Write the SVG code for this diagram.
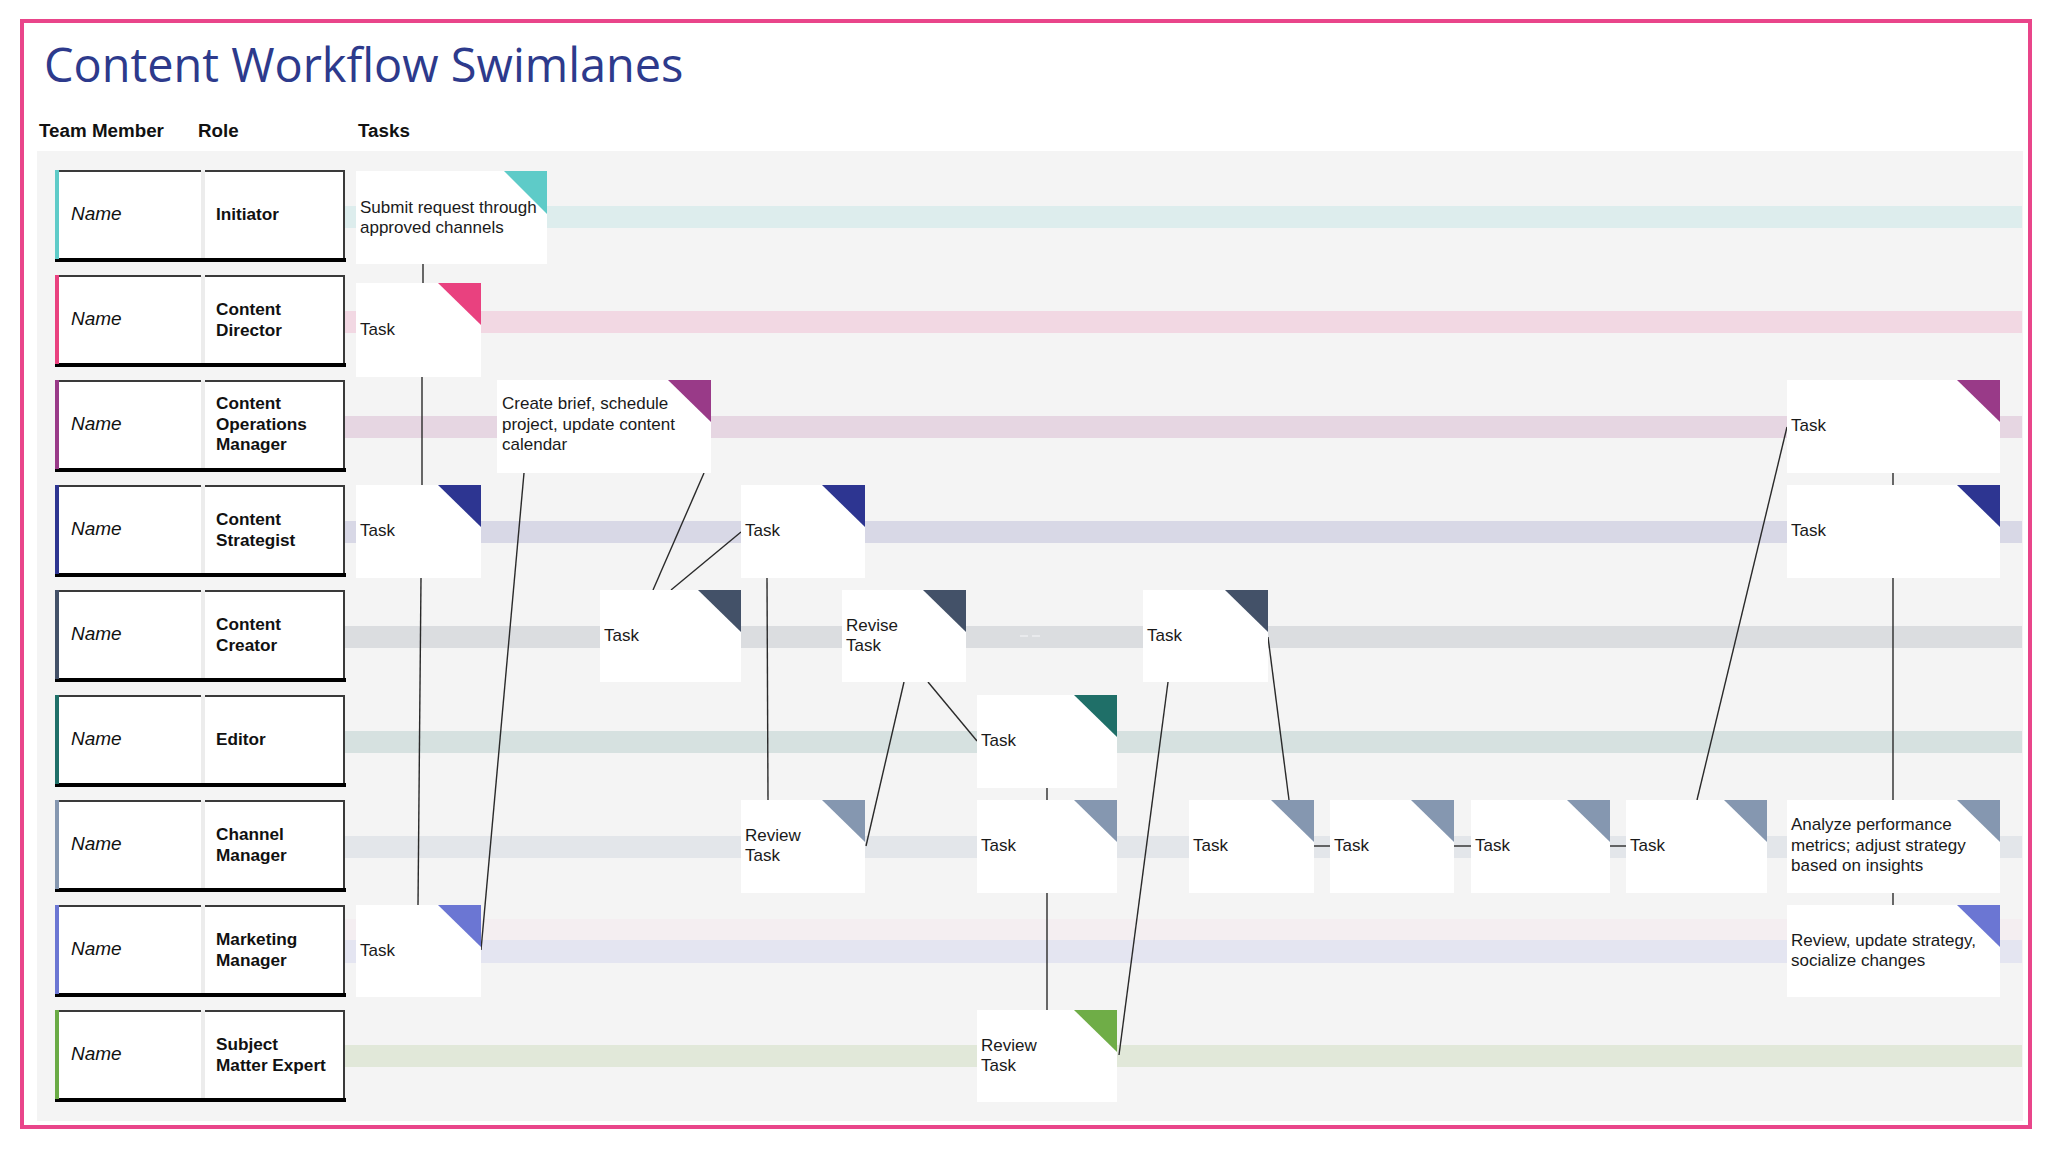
<svg xmlns="http://www.w3.org/2000/svg" width="2048" height="1152" viewBox="0 0 2048 1152">
<style>
.title{font-family:"Open Sans","Noto Sans",sans-serif;font-size:46.9px;fill:#2d3a8c}
.hdr{font-family:"Liberation Sans",Arial,sans-serif;font-size:18.8px;font-weight:bold;fill:#111}
.name{font-family:"Liberation Sans",Arial,sans-serif;font-size:19px;font-style:italic;fill:#111}
.role{font-family:"Liberation Sans",Arial,sans-serif;font-size:17.2px;font-weight:bold;fill:#111}
.tt{font-family:"Liberation Sans",Arial,sans-serif;font-size:17px;fill:#1a1a1a}
.cell{fill:#fff}
.tb{stroke:#3a3a3a;stroke-width:2;fill:none}
.bot{fill:#000}
.gap{fill:#ececec}
.box{fill:#fff}
.conn{stroke:#2a2a2a;stroke-width:1.4;fill:none}
</style>
<rect x="0" y="0" width="2048" height="1152" fill="#fff"/>
<g id="frame">
<rect x="37" y="151" width="1986" height="970" fill="#f4f4f4"/>
<rect x="22" y="21" width="2008" height="1106" fill="none" stroke="#e9458a" stroke-width="4"/>
</g>
<g id="header">
<text class="title" x="44" y="82">Content Workflow Swimlanes</text>
<text class="hdr" x="39" y="137">Team Member</text>
<text class="hdr" x="198" y="137">Role</text>
<text class="hdr" x="358" y="137">Tasks</text>
</g>
<g id="bands">
<rect x="345" y="206" width="1677" height="22" fill="#ddeded"/>
<rect x="345" y="311" width="1677" height="22" fill="#f2d8e3"/>
<rect x="345" y="416" width="1677" height="22" fill="#e6d6e2"/>
<rect x="345" y="521" width="1677" height="22" fill="#d8d8e6"/>
<rect x="345" y="626" width="1677" height="22" fill="#dbdde0"/>
<rect x="345" y="731" width="1677" height="22" fill="#d6e1e0"/>
<rect x="345" y="836" width="1677" height="22" fill="#e3e6ea"/>
<rect x="345" y="919" width="1677" height="21" fill="#f4eef1"/>
<rect x="345" y="940" width="1677" height="23" fill="#e4e5f1"/>
<rect x="345" y="1045" width="1677" height="22" fill="#e1e8d9"/>
<line x1="1020" y1="636" x2="1042" y2="636" stroke="#e9eaed" stroke-width="2" stroke-dasharray="8,4"/>
</g>
<g id="row-initiator">
<rect class="cell" x="57" y="170" width="144" height="88"/><rect class="cell" x="205" y="170" width="140" height="88"/>
<rect class="gap" x="201" y="171" width="4" height="87"/>
<path class="tb" d="M55 171H201M205 171H344V259"/>
<rect class="bot" x="55" y="258" width="291" height="4"/>
<rect x="55" y="170" width="4" height="89" fill="#5ecbc8"/>
<text class="name" x="71" y="220">Name</text>
<text class="role" x="216" y="220">Initiator</text>
</g>
<g id="row-content-director">
<rect class="cell" x="57" y="275" width="144" height="88"/><rect class="cell" x="205" y="275" width="140" height="88"/>
<rect class="gap" x="201" y="276" width="4" height="87"/>
<path class="tb" d="M55 276H201M205 276H344V364"/>
<rect class="bot" x="55" y="363" width="291" height="4"/>
<rect x="55" y="275" width="4" height="89" fill="#e9417f"/>
<text class="name" x="71" y="325">Name</text>
<text class="role" x="216" y="315">Content</text>
<text class="role" x="216" y="336">Director</text>
</g>
<g id="row-content-operations-manager">
<rect class="cell" x="57" y="380" width="144" height="88"/><rect class="cell" x="205" y="380" width="140" height="88"/>
<rect class="gap" x="201" y="381" width="4" height="87"/>
<path class="tb" d="M55 381H201M205 381H344V469"/>
<rect class="bot" x="55" y="468" width="291" height="4"/>
<rect x="55" y="380" width="4" height="89" fill="#993a88"/>
<text class="name" x="71" y="430">Name</text>
<text class="role" x="216" y="409">Content</text>
<text class="role" x="216" y="430">Operations</text>
<text class="role" x="216" y="450">Manager</text>
</g>
<g id="row-content-strategist">
<rect class="cell" x="57" y="485" width="144" height="88"/><rect class="cell" x="205" y="485" width="140" height="88"/>
<rect class="gap" x="201" y="486" width="4" height="87"/>
<path class="tb" d="M55 486H201M205 486H344V574"/>
<rect class="bot" x="55" y="573" width="291" height="4"/>
<rect x="55" y="485" width="4" height="89" fill="#2d3591"/>
<text class="name" x="71" y="535">Name</text>
<text class="role" x="216" y="525">Content</text>
<text class="role" x="216" y="546">Strategist</text>
</g>
<g id="row-content-creator">
<rect class="cell" x="57" y="590" width="144" height="88"/><rect class="cell" x="205" y="590" width="140" height="88"/>
<rect class="gap" x="201" y="591" width="4" height="87"/>
<path class="tb" d="M55 591H201M205 591H344V679"/>
<rect class="bot" x="55" y="678" width="291" height="4"/>
<rect x="55" y="590" width="4" height="89" fill="#435168"/>
<text class="name" x="71" y="640">Name</text>
<text class="role" x="216" y="630">Content</text>
<text class="role" x="216" y="651">Creator</text>
</g>
<g id="row-editor">
<rect class="cell" x="57" y="695" width="144" height="88"/><rect class="cell" x="205" y="695" width="140" height="88"/>
<rect class="gap" x="201" y="696" width="4" height="87"/>
<path class="tb" d="M55 696H201M205 696H344V784"/>
<rect class="bot" x="55" y="783" width="291" height="4"/>
<rect x="55" y="695" width="4" height="89" fill="#1f6f68"/>
<text class="name" x="71" y="745">Name</text>
<text class="role" x="216" y="745">Editor</text>
</g>
<g id="row-channel-manager">
<rect class="cell" x="57" y="800" width="144" height="88"/><rect class="cell" x="205" y="800" width="140" height="88"/>
<rect class="gap" x="201" y="801" width="4" height="87"/>
<path class="tb" d="M55 801H201M205 801H344V889"/>
<rect class="bot" x="55" y="888" width="291" height="4"/>
<rect x="55" y="800" width="4" height="89" fill="#8597b0"/>
<text class="name" x="71" y="850">Name</text>
<text class="role" x="216" y="840">Channel</text>
<text class="role" x="216" y="861">Manager</text>
</g>
<g id="row-marketing-manager">
<rect class="cell" x="57" y="905" width="144" height="88"/><rect class="cell" x="205" y="905" width="140" height="88"/>
<rect class="gap" x="201" y="906" width="4" height="87"/>
<path class="tb" d="M55 906H201M205 906H344V994"/>
<rect class="bot" x="55" y="993" width="291" height="4"/>
<rect x="55" y="905" width="4" height="89" fill="#6b76d3"/>
<text class="name" x="71" y="955">Name</text>
<text class="role" x="216" y="945">Marketing</text>
<text class="role" x="216" y="966">Manager</text>
</g>
<g id="row-subject-matter-expert">
<rect class="cell" x="57" y="1010" width="144" height="88"/><rect class="cell" x="205" y="1010" width="140" height="88"/>
<rect class="gap" x="201" y="1011" width="4" height="87"/>
<path class="tb" d="M55 1011H201M205 1011H344V1099"/>
<rect class="bot" x="55" y="1098" width="291" height="4"/>
<rect x="55" y="1010" width="4" height="89" fill="#6aab45"/>
<text class="name" x="71" y="1060">Name</text>
<text class="role" x="216" y="1050">Subject</text>
<text class="role" x="216" y="1071">Matter Expert</text>
</g>
<g id="connectors">
<line class="conn" x1="423" y1="264" x2="423" y2="283"/>
<line class="conn" x1="422" y1="377" x2="422" y2="485"/>
<line class="conn" x1="421" y1="578" x2="418" y2="905"/>
<line class="conn" x1="481" y1="950" x2="524" y2="473"/>
<line class="conn" x1="704" y1="473" x2="653" y2="590"/>
<line class="conn" x1="671" y1="590" x2="741" y2="532"/>
<line class="conn" x1="767" y1="578" x2="768" y2="800"/>
<line class="conn" x1="866" y1="846" x2="904" y2="682"/>
<line class="conn" x1="928" y1="682" x2="977" y2="741"/>
<line class="conn" x1="1047" y1="788" x2="1047" y2="800"/>
<line class="conn" x1="1047" y1="893" x2="1047" y2="1010"/>
<line class="conn" x1="1119" y1="1055" x2="1168" y2="682"/>
<line class="conn" x1="1268" y1="637" x2="1289" y2="800"/>
<line class="conn" x1="1314" y1="846" x2="1330" y2="846"/>
<line class="conn" x1="1454" y1="846" x2="1471" y2="846"/>
<line class="conn" x1="1610" y1="846" x2="1626" y2="846"/>
<line class="conn" x1="1697" y1="800" x2="1787" y2="427"/>
<line class="conn" x1="1893" y1="473" x2="1893" y2="485"/>
<line class="conn" x1="1893" y1="578" x2="1893" y2="800"/>
<line class="conn" x1="1893" y1="893" x2="1893" y2="905"/>
</g>
<g id="task-submit-request">
<rect class="box" x="356" y="171" width="191" height="93"/>
<polygon points="504,171 547,171 547,214" fill="#5ecbc8"/>
<text class="tt" x="360" y="213">Submit request through</text>
<text class="tt" x="360" y="233">approved channels</text>
</g>
<g id="task-director">
<rect class="box" x="356" y="283" width="125" height="94"/>
<polygon points="438,283 481,283 481,325" fill="#e9417f"/>
<text class="tt" x="360" y="335">Task</text>
</g>
<g id="task-create-brief">
<rect class="box" x="497" y="380" width="214" height="93"/>
<polygon points="668,380 711,380 711,422" fill="#993a88"/>
<text class="tt" x="502" y="409">Create brief, schedule</text>
<text class="tt" x="502" y="430">project, update content</text>
<text class="tt" x="502" y="450">calendar</text>
</g>
<g id="task-ops-right">
<rect class="box" x="1787" y="380" width="213" height="93"/>
<polygon points="1957,380 2000,380 2000,422" fill="#993a88"/>
<text class="tt" x="1791" y="431">Task</text>
</g>
<g id="task-strategist-1">
<rect class="box" x="356" y="485" width="125" height="93"/>
<polygon points="438,485 481,485 481,527" fill="#2d3591"/>
<text class="tt" x="360" y="536">Task</text>
</g>
<g id="task-strategist-2">
<rect class="box" x="741" y="485" width="124" height="93"/>
<polygon points="822,485 865,485 865,527" fill="#2d3591"/>
<text class="tt" x="745" y="536">Task</text>
</g>
<g id="task-strategist-right">
<rect class="box" x="1787" y="485" width="213" height="93"/>
<polygon points="1957,485 2000,485 2000,527" fill="#2d3591"/>
<text class="tt" x="1791" y="536">Task</text>
</g>
<g id="task-creator-1">
<rect class="box" x="600" y="590" width="141" height="92"/>
<polygon points="698,590 741,590 741,632" fill="#435168"/>
<text class="tt" x="604" y="641">Task</text>
</g>
<g id="task-revise">
<rect class="box" x="842" y="590" width="124" height="92"/>
<polygon points="923,590 966,590 966,632" fill="#435168"/>
<text class="tt" x="846" y="631">Revise</text>
<text class="tt" x="846" y="651">Task</text>
</g>
<g id="task-creator-3">
<rect class="box" x="1143" y="590" width="125" height="92"/>
<polygon points="1225,590 1268,590 1268,632" fill="#435168"/>
<text class="tt" x="1147" y="641">Task</text>
</g>
<g id="task-editor">
<rect class="box" x="977" y="695" width="140" height="93"/>
<polygon points="1074,695 1117,695 1117,737" fill="#1f6f68"/>
<text class="tt" x="981" y="746">Task</text>
</g>
<g id="task-channel-review">
<rect class="box" x="741" y="800" width="124" height="93"/>
<polygon points="822,800 865,800 865,842" fill="#8597b0"/>
<text class="tt" x="745" y="841">Review</text>
<text class="tt" x="745" y="861">Task</text>
</g>
<g id="task-channel-2">
<rect class="box" x="977" y="800" width="140" height="93"/>
<polygon points="1074,800 1117,800 1117,842" fill="#8597b0"/>
<text class="tt" x="981" y="851">Task</text>
</g>
<g id="task-channel-3">
<rect class="box" x="1189" y="800" width="125" height="93"/>
<polygon points="1271,800 1314,800 1314,842" fill="#8597b0"/>
<text class="tt" x="1193" y="851">Task</text>
</g>
<g id="task-channel-4">
<rect class="box" x="1330" y="800" width="124" height="93"/>
<polygon points="1411,800 1454,800 1454,842" fill="#8597b0"/>
<text class="tt" x="1334" y="851">Task</text>
</g>
<g id="task-channel-5">
<rect class="box" x="1471" y="800" width="139" height="93"/>
<polygon points="1567,800 1610,800 1610,842" fill="#8597b0"/>
<text class="tt" x="1475" y="851">Task</text>
</g>
<g id="task-channel-6">
<rect class="box" x="1626" y="800" width="141" height="93"/>
<polygon points="1724,800 1767,800 1767,842" fill="#8597b0"/>
<text class="tt" x="1630" y="851">Task</text>
</g>
<g id="task-analyze">
<rect class="box" x="1787" y="800" width="213" height="93"/>
<polygon points="1957,800 2000,800 2000,842" fill="#8597b0"/>
<text class="tt" x="1791" y="830">Analyze performance</text>
<text class="tt" x="1791" y="851">metrics; adjust strategy</text>
<text class="tt" x="1791" y="871">based on insights</text>
</g>
<g id="task-marketing">
<rect class="box" x="356" y="905" width="125" height="92"/>
<polygon points="438,905 481,905 481,947" fill="#6b76d3"/>
<text class="tt" x="360" y="956">Task</text>
</g>
<g id="task-review-update">
<rect class="box" x="1787" y="905" width="213" height="92"/>
<polygon points="1957,905 2000,905 2000,947" fill="#6b76d3"/>
<text class="tt" x="1791" y="946">Review, update strategy,</text>
<text class="tt" x="1791" y="966">socialize changes</text>
</g>
<g id="task-sme-review">
<rect class="box" x="977" y="1010" width="140" height="92"/>
<polygon points="1074,1010 1117,1010 1117,1052" fill="#6fad47"/>
<text class="tt" x="981" y="1051">Review</text>
<text class="tt" x="981" y="1071">Task</text>
</g>
</svg>
